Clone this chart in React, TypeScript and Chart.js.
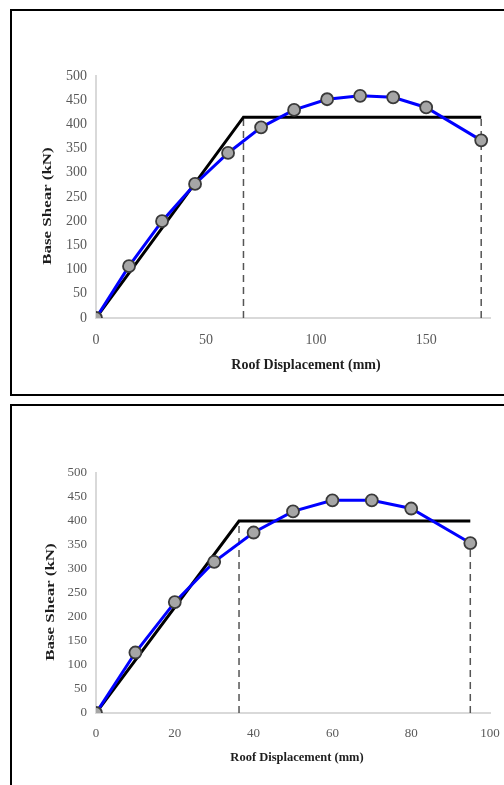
import React, { useEffect, useRef } from "react";
import { Chart, registerables } from "chart.js";

Chart.register(...registerables);

// ---------- Panel 1 data ----------
const disp1 = [0, 15, 30, 45, 60, 75, 90, 105, 120, 135, 150, 175];
const shear1 = [0, 107, 200, 277, 341, 394, 430, 452, 459, 456, 435, 367];
const bilinDisp1 = [0, 67, 175];
const bilinShear1 = [0, 415, 415];
const yieldDisp1 = 67;
const yieldTop1 = 415;
const ultDisp1 = 175;
const ultTop1 = 415;
const xTicks1 = [0, 50, 100, 150];
const xMax1 = 179;

// ---------- Panel 2 data ----------
const disp2 = [0, 10, 20, 30, 40, 50, 60, 70, 80, 95];
const shear2 = [0, 126, 231, 315, 376, 420, 443, 443, 426, 354];
const bilinDisp2 = [0, 36.3, 95];
const bilinShear2 = [0, 400, 400];
const yieldDisp2 = 36.3;
const yieldTop2 = 400;
const ultDisp2 = 95;
const ultTop2 = 354;
const xTicks2 = [0, 20, 40, 60, 80, 100];
const xMax2 = 100;

const yTicks = [0, 50, 100, 150, 200, 250, 300, 350, 400, 450, 500];
const yMax = 500;

const xTitle = "Roof Displacement (mm)";
const yTitle = "Base Shear (kN)";

const SERIF = '"Liberation Serif", "Times New Roman", serif';
const CANVAS_W = 540;

const axisTitlePlugin = {
  id: "axisTitles",
  afterDraw(chart: any, _args: any, opts: any) {
    const { ctx, chartArea } = chart;
    const cx = (chartArea.left + chartArea.right) / 2;
    const cy = (chartArea.top + chartArea.bottom) / 2;
    ctx.save();
    ctx.fillStyle = opts.color;
    ctx.textAlign = "center";
    ctx.textBaseline = "middle";
    ctx.save();
    ctx.font = `bold ${opts.xSize}px ${SERIF}`;
    ctx.translate(cx + opts.xDx, chartArea.bottom + opts.xDy);
    ctx.scale(opts.xStretch, 1);
    ctx.fillText(opts.xText, 0, 0);
    ctx.restore();
    ctx.save();
    ctx.font = `bold ${opts.ySize}px ${SERIF}`;
    ctx.translate(chartArea.left - opts.yDx, cy + opts.yDy);
    ctx.rotate(-Math.PI / 2);
    ctx.scale(opts.yStretch, 1);
    ctx.fillText(opts.yText, 0, 0);
    ctx.restore();
    ctx.restore();
  },
};

const pts = (xs: number[], ys: number[]) => xs.map((x, i) => ({ x, y: ys[i] }));

interface PanelCfg {
  disp: number[];
  shear: number[];
  bilinDisp: number[];
  bilinShear: number[];
  yieldDisp: number;
  yieldTop: number;
  ultDisp: number;
  ultTop: number;
  xTicks: number[];
  xMax: number;
  height: number;
  top: number;
  bottomH: number;
  tickSize: number;
  xTickPad: number;
  titles: any;
}

function makeConfig(p: PanelCfg): any {
  const dashStyle = {
    borderColor: "#555555",
    borderWidth: 1.5,
    borderDash: [7, 5],
    pointRadius: 0,
    showLine: true,
    fill: false,
  };
  return {
    type: "scatter",
    data: {
      datasets: [
        {
          data: pts(p.disp, p.shear),
          showLine: true,
          borderColor: "#0000ff",
          borderWidth: 3,
          pointRadius: 6,
          pointBackgroundColor: "#a6a6a6",
          pointBorderColor: "#3a3a3a",
          pointBorderWidth: 1.8,
          tension: 0,
        },
        {
          data: pts(p.bilinDisp, p.bilinShear),
          showLine: true,
          borderColor: "#000000",
          borderWidth: 3,
          pointRadius: 0,
        },
        { ...dashStyle, data: pts([p.yieldDisp, p.yieldDisp], [0, p.yieldTop]) },
        { ...dashStyle, data: pts([p.ultDisp, p.ultDisp], [0, p.ultTop]) },
      ],
    },
    options: {
      animation: false,
      responsive: false,
      events: [],
      layout: { padding: { left: 0, right: CANVAS_W - 490, top: p.top, bottom: 0 } },
      plugins: {
        legend: { display: false },
        tooltip: { enabled: false },
        axisTitles: p.titles,
      },
      scales: {
        x: {
          type: "linear",
          position: "bottom",
          min: 0,
          max: p.xMax,
          grid: { display: false, drawTicks: false },
          border: { display: true, color: "#d9d9d9", width: 2 },
          ticks: {
            color: "#595959",
            font: { family: SERIF, size: p.tickSize },
            padding: p.xTickPad,
            maxRotation: 0,
          },
          afterBuildTicks: (s: any) => {
            s.ticks = p.xTicks.map((v) => ({ value: v }));
          },
          afterFit: (s: any) => {
            s.height = p.bottomH;
          },
        },
        y: {
          type: "linear",
          position: "left",
          min: 0,
          max: yMax,
          grid: { display: false, drawTicks: false },
          border: { display: true, color: "#d9d9d9", width: 2 },
          ticks: {
            color: "#595959",
            font: { family: SERIF, size: p.tickSize },
            padding: 9,
          },
          afterBuildTicks: (s: any) => {
            s.ticks = yTicks.map((v) => ({ value: v }));
          },
          afterFit: (s: any) => {
            s.width = 96;
          },
        },
      },
    },
    plugins: [axisTitlePlugin],
  };
}

const panel1: PanelCfg = {
  disp: disp1,
  shear: shear1,
  bilinDisp: bilinDisp1,
  bilinShear: bilinShear1,
  yieldDisp: yieldDisp1,
  yieldTop: yieldTop1,
  ultDisp: ultDisp1,
  ultTop: ultTop1,
  xTicks: xTicks1,
  xMax: xMax1,
  height: 395,
  top: 76,
  bottomH: 77,
  tickSize: 14,
  xTickPad: 14,
  titles: {
    color: "#1e1e1e",
    xText: xTitle,
    xSize: 14,
    xStretch: 1,
    xDx: 13,
    xDy: 47,
    yText: yTitle,
    ySize: 13,
    yStretch: 1.3,
    yDx: 48,
    yDy: 9,
  },
};

const panel2: PanelCfg = {
  disp: disp2,
  shear: shear2,
  bilinDisp: bilinDisp2,
  bilinShear: bilinShear2,
  yieldDisp: yieldDisp2,
  yieldTop: yieldTop2,
  ultDisp: ultDisp2,
  ultTop: ultTop2,
  xTicks: xTicks2,
  xMax: xMax2,
  height: 385,
  top: 73,
  bottomH: 72,
  tickSize: 13,
  xTickPad: 13,
  titles: {
    color: "#1e1e1e",
    xText: xTitle,
    xSize: 12.5,
    xStretch: 1,
    xDx: 4,
    xDy: 45,
    yText: yTitle,
    ySize: 13,
    yStretch: 1.3,
    yDx: 45,
    yDy: 9,
  },
};

function Panel({ cfg, top }: { cfg: PanelCfg; top: number }) {
  const ref = useRef<HTMLCanvasElement | null>(null);
  useEffect(() => {
    if (!ref.current) return;
    const chart = new Chart(ref.current, makeConfig(cfg));
    return () => chart.destroy();
  }, [cfg]);
  return (
    <canvas
      ref={ref}
      width={CANVAS_W}
      height={cfg.height}
      style={{ position: "absolute", left: 0, top, width: CANVAS_W, height: cfg.height }}
    />
  );
}

export default function App() {
  return (
    <div
      style={{
        position: "fixed",
        left: 0,
        top: 0,
        width: 504,
        height: 785,
        overflow: "hidden",
        background: "#ffffff",
      }}
    >
      <Panel cfg={panel1} top={0} />
      <Panel cfg={panel2} top={400} />
      <div
        style={{
          position: "absolute",
          left: 10,
          top: 9,
          width: 540,
          height: 387,
          border: "2px solid #000",
          boxSizing: "border-box",
          pointerEvents: "none",
        }}
      />
      <div
        style={{
          position: "absolute",
          left: 10,
          top: 404,
          width: 540,
          height: 420,
          border: "2px solid #000",
          boxSizing: "border-box",
          pointerEvents: "none",
        }}
      />
    </div>
  );
}
